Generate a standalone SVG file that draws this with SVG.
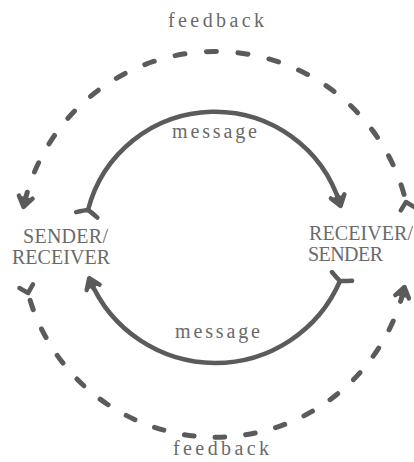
<svg xmlns="http://www.w3.org/2000/svg" width="414" height="462" viewBox="0 0 414 462">
<style>
  .lbl { font-family: "Liberation Serif", "Times New Roman", serif; font-size: 20px; fill: #6a6a6a; }
  .solid { fill: none; stroke: #5b5b5b; stroke-width: 4.5; stroke-linecap: round; }
  .dash { fill: none; stroke: #5b5b5b; stroke-width: 5; stroke-linecap: round; stroke-dasharray: 1.9 4.1; stroke-dashoffset: 4.5; }
  .mk { fill: none; stroke: #5b5b5b; stroke-width: 4.5; stroke-linecap: round; stroke-linejoin: round; stroke-dasharray: none; }
  .mkf { fill: #5b5b5b; stroke: none; }
</style>
<defs>
  <marker id="head" markerUnits="userSpaceOnUse" orient="auto" refX="0" refY="0" markerWidth="30" markerHeight="30" overflow="visible">
    <path class="mk" d="M -8,-7 L 2,0 L -8,7"/>
    <path class="mkf" d="M -8,-5 L 3,0 L -8,5 Z"/>
    <path class="mk" d="M -9,0 L 1,0"/>
  </marker>
  <marker id="tail" markerUnits="userSpaceOnUse" orient="auto" refX="0" refY="0" markerWidth="30" markerHeight="30" overflow="visible">
    <path class="mk" d="M -7,-7 L 0,0 L -7,7"/>
  </marker>
  <marker id="tailflat" markerUnits="userSpaceOnUse" orient="auto" refX="0" refY="0" markerWidth="30" markerHeight="30" overflow="visible">
    <path class="mk" d="M -5,-11 Q -1,-3 0,0 Q -1,3 -5,11"/>
  </marker>
</defs>

<g id="connectors">
  <!-- outer feedback, top: receiver -> sender -->
  <path id="feedback-top" class="dash" pathLength="100" d="M 406 202 A 196 196 0 0 0 24 205" marker-start="url(#tail)" marker-end="url(#head)"/>
  <!-- outer feedback, bottom: sender -> receiver -->
  <path id="feedback-bottom" class="dash" pathLength="100" d="M 28 293 A 194 194 0 0 0 404 289" marker-start="url(#tail)" marker-end="url(#head)"/>
  <!-- inner message, top: sender -> receiver -->
  <path id="message-top" class="solid" d="M 88 210 A 131 131 0 0 1 340 204" marker-start="url(#tailflat)" marker-end="url(#head)"/>
  <!-- inner message, bottom: receiver -> sender -->
  <path id="message-bottom" class="solid" d="M 340 281 A 136 136 0 0 1 90 280" marker-start="url(#tailflat)" marker-end="url(#head)"/>
</g>

<g id="label-feedback-top"><text class="lbl" x="168" y="27" textLength="96" lengthAdjust="spacing">feedback</text></g>
<g id="label-feedback-bottom"><text class="lbl" x="173" y="455" textLength="96" lengthAdjust="spacing">feedback</text></g>
<g id="label-message-top"><text class="lbl" x="172" y="138" textLength="85" lengthAdjust="spacing">message</text></g>
<g id="label-message-bottom"><text class="lbl" x="175" y="338" textLength="85" lengthAdjust="spacing">message</text></g>

<g id="node-sender-receiver">
  <text class="lbl" x="23" y="243" textLength="85" lengthAdjust="spacing">SENDER/</text>
  <text class="lbl" x="12" y="264" textLength="98" lengthAdjust="spacing">RECEIVER</text>
</g>
<g id="node-receiver-sender">
  <text class="lbl" x="309" y="240" textLength="104" lengthAdjust="spacing">RECEIVER/</text>
  <text class="lbl" x="308" y="261" textLength="75" lengthAdjust="spacing">SENDER</text>
</g>
</svg>
